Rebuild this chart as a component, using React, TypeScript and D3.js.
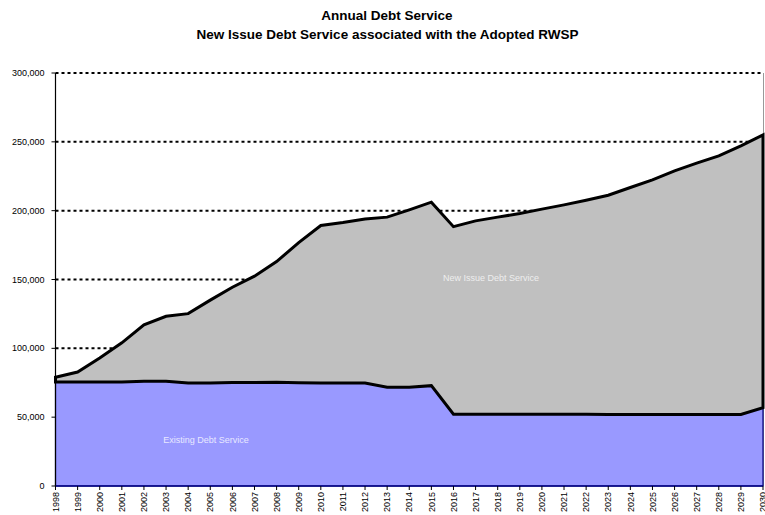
import React from "react";
import * as d3 from "d3";

const years: number[] = [
  1998, 1999, 2000, 2001, 2002, 2003, 2004, 2005, 2006, 2007, 2008, 2009, 2010,
  2011, 2012, 2013, 2014, 2015, 2016, 2017, 2018, 2019, 2020, 2021, 2022, 2023,
  2024, 2025, 2026, 2027, 2028, 2029, 2030,
];

const existingDebt: number[] = [
  75500, 75500, 75500, 75500, 76000, 76000, 74800, 74800, 75200, 75200, 75300,
  75000, 74800, 74800, 74800, 71700, 71700, 72900, 52100, 52100, 52100, 52100,
  52100, 52100, 52100, 52000, 52000, 52000, 52000, 52000, 52000, 52000, 56900,
];

const newIssueDebt: number[] = [
  3500, 7300, 17500, 28500, 41000, 47300, 50400, 60200, 69200, 77200, 87700,
  101800, 114400, 116600, 119200, 123600, 128900, 133300, 136300, 140500,
  143200, 145800, 149000, 152100, 155500, 159200, 164800, 170400, 176900,
  182500, 187800, 195100, 198200,
];

const yTicks: number[] = [0, 50000, 100000, 150000, 200000, 250000, 300000];

const titleLines: string[] = [
  "Annual Debt Service",
  "New Issue Debt Service associated with the Adopted RWSP",
];

const FONT = "'Liberation Sans', Arial, sans-serif";

export default function App() {
  const W = 765;
  const H = 515;
  const left = 55.5;
  const right = 763;
  const top = 73;
  const bottom = 486;

  const x = d3.scaleLinear().domain([years[0], years[years.length - 1]]).range([left, right]);
  const y = d3.scaleLinear().domain([0, 300000]).range([bottom, top]);

  const rows = years.map((yr, i) => ({
    year: yr,
    existing: existingDebt[i],
    newIssue: newIssueDebt[i],
  }));
  const stack = d3.stack<any>().keys(["existing", "newIssue"]);
  const series = stack(rows);

  const area = d3
    .area<any>()
    .x((d) => x(d.data.year))
    .y0((d) => y(d[0]))
    .y1((d) => y(d[1]));

  const fmt = d3.format(",");

  return (
    <svg
      width={W}
      height={H}
      style={{ position: "absolute", left: 0, top: 0, background: "#fff" }}
      fontFamily={FONT}
    >
      <text x={387} y={20} textAnchor="middle" fontSize={13.5} fontWeight="bold">
        {titleLines[0]}
      </text>
      <text x={387.5} y={39} textAnchor="middle" fontSize={13.5} fontWeight="bold">
        {titleLines[1]}
      </text>

      {/* right plot border */}
      <line x1={right + 0.5} x2={right + 0.5} y1={top} y2={bottom} stroke="#999" strokeWidth={1} />

      {/* gridlines */}
      {yTicks
        .filter((t) => t > 0)
        .map((t) => (
          <line
            key={t}
            x1={left}
            x2={right}
            y1={y(t)}
            y2={y(t)}
            stroke="#000"
            strokeWidth={2}
            strokeDasharray="3,3"
          />
        ))}

      {/* existing */}
      <path d={area(series[0] as any) || ""} fill="#9999FF" stroke="#000080" strokeWidth={1.2} />
      {/* new issue */}
      <path
        d={area(series[1] as any) || ""}
        fill="#C0C0C0"
        stroke="#000"
        strokeWidth={3}
        strokeLinejoin="miter"
      />

      {/* axes */}
      <line x1={left} x2={left} y1={top} y2={bottom} stroke="#000" strokeWidth={1.2} />
      <line x1={left} x2={right} y1={bottom} y2={bottom} stroke="#000080" strokeWidth={1.5} />
      {yTicks.map((t) => (
        <g key={t}>
          <line x1={left - 4} x2={left} y1={y(t)} y2={y(t)} stroke="#000" strokeWidth={1} />
          <text x={44.5} y={y(t)} dy="0.35em" textAnchor="end" fontSize={9} fill="#000">
            {fmt(t)}
          </text>
        </g>
      ))}
      {years.map((yr) => (
        <g key={yr}>
          <line x1={x(yr)} x2={x(yr)} y1={bottom} y2={bottom + 4} stroke="#000" strokeWidth={1} />
          <text
            transform={`translate(${x(yr)},${bottom + 6}) rotate(-90)`}
            dy="0.35em"
            textAnchor="end"
            fontSize={9}
            fill="#000"
          >
            {yr}
          </text>
        </g>
      ))}

      <text x={491} y={280.5} textAnchor="middle" fontSize={9} fill="#eeeeee">
        New Issue Debt Service
      </text>
      <text x={206} y={442.5} textAnchor="middle" fontSize={9} fill="#e8e8ff">
        Existing Debt Service
      </text>
    </svg>
  );
}
